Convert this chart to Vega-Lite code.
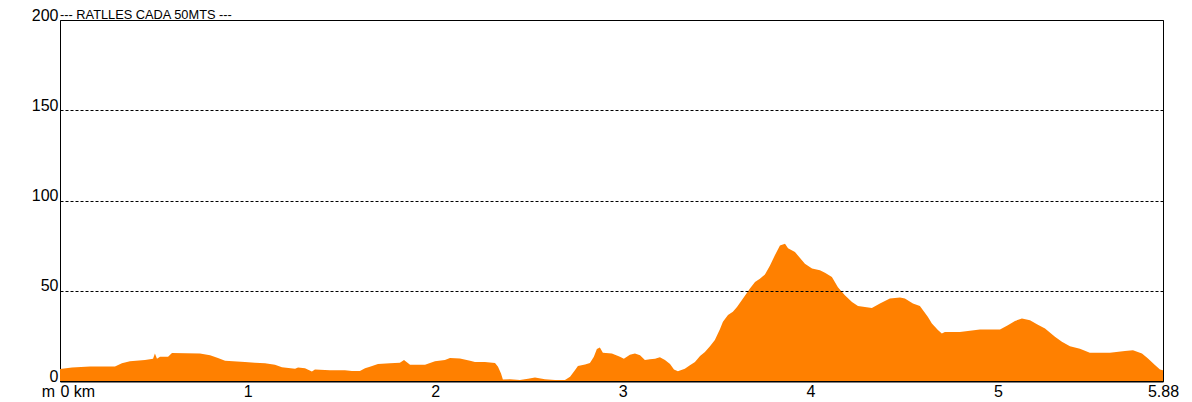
{
  "$schema": "https://vega.github.io/schema/vega-lite/v6.json",
  "width": 1103,
  "height": 361,
  "autosize": {"type": "none"},
  "padding": {"left": 60, "top": 20, "right": 29, "bottom": 21},
  "background": "white",
  "config": {
    "view": {"stroke": "black", "strokeWidth": 1},
    "font": "Liberation Sans"
  },
  "title": {
    "text": "--- RATLLES CADA 50MTS ---",
    "anchor": "start",
    "frame": "group",
    "font": "Liberation Sans",
    "fontSize": 12.8,
    "fontWeight": "normal",
    "color": "black",
    "baseline": "alphabetic",
    "offset": 0,
    "dy": 25
  },
  "data": {
    "values": [
      {"km": 0, "elev": 6.6}, {"km": 0.064, "elev": 7.5}, {"km": 0.16, "elev": 8}, {"km": 0.293, "elev": 8},
      {"km": 0.33, "elev": 9.8}, {"km": 0.373, "elev": 11}, {"km": 0.453, "elev": 11.6}, {"km": 0.496, "elev": 12.3},
      {"km": 0.506, "elev": 15.3}, {"km": 0.517, "elev": 12.3}, {"km": 0.533, "elev": 13.4}, {"km": 0.576, "elev": 13.4},
      {"km": 0.597, "elev": 15.5}, {"km": 0.746, "elev": 15.3}, {"km": 0.8, "elev": 14.2}, {"km": 0.842, "elev": 12.7},
      {"km": 0.88, "elev": 11.2}, {"km": 0.986, "elev": 10.5}, {"km": 1.039, "elev": 10.1}, {"km": 1.093, "elev": 9.8},
      {"km": 1.146, "elev": 9}, {"km": 1.183, "elev": 7.6}, {"km": 1.253, "elev": 6.8}, {"km": 1.269, "elev": 7.5},
      {"km": 1.306, "elev": 7}, {"km": 1.343, "elev": 5.2}, {"km": 1.359, "elev": 6.4}, {"km": 1.439, "elev": 6},
      {"km": 1.519, "elev": 6}, {"km": 1.556, "elev": 5.5}, {"km": 1.599, "elev": 5.5}, {"km": 1.626, "elev": 7},
      {"km": 1.652, "elev": 7.9}, {"km": 1.695, "elev": 9.4}, {"km": 1.759, "elev": 9.8}, {"km": 1.812, "elev": 10.1},
      {"km": 1.834, "elev": 11.6}, {"km": 1.866, "elev": 9}, {"km": 1.946, "elev": 9}, {"km": 1.999, "elev": 10.9},
      {"km": 2.052, "elev": 11.6}, {"km": 2.079, "elev": 12.7}, {"km": 2.132, "elev": 12.5}, {"km": 2.186, "elev": 11.2},
      {"km": 2.212, "elev": 10.5}, {"km": 2.265, "elev": 10.5}, {"km": 2.319, "elev": 10}, {"km": 2.335, "elev": 7.9},
      {"km": 2.351, "elev": 4.2}, {"km": 2.361, "elev": 0.9}, {"km": 2.399, "elev": 1}, {"km": 2.452, "elev": 0.5},
      {"km": 2.495, "elev": 1.3}, {"km": 2.532, "elev": 2}, {"km": 2.585, "elev": 1}, {"km": 2.639, "elev": 0.5},
      {"km": 2.692, "elev": 0.5}, {"km": 2.719, "elev": 2.4}, {"km": 2.745, "elev": 6}, {"km": 2.761, "elev": 8.3},
      {"km": 2.799, "elev": 9.2}, {"km": 2.825, "elev": 10}, {"km": 2.846, "elev": 13.4}, {"km": 2.862, "elev": 17.7},
      {"km": 2.878, "elev": 18.6}, {"km": 2.894, "elev": 15.7}, {"km": 2.942, "elev": 15.3}, {"km": 2.985, "elev": 13.4},
      {"km": 3.006, "elev": 12.3}, {"km": 3.038, "elev": 14.5}, {"km": 3.065, "elev": 15.3}, {"km": 3.092, "elev": 14.2},
      {"km": 3.118, "elev": 11.6}, {"km": 3.145, "elev": 12}, {"km": 3.172, "elev": 12.3}, {"km": 3.198, "elev": 13.1},
      {"km": 3.225, "elev": 11.6}, {"km": 3.252, "elev": 9.4}, {"km": 3.273, "elev": 6.4}, {"km": 3.294, "elev": 5.4},
      {"km": 3.331, "elev": 6.8}, {"km": 3.358, "elev": 8.7}, {"km": 3.385, "elev": 10.5}, {"km": 3.412, "elev": 13.8},
      {"km": 3.438, "elev": 16}, {"km": 3.465, "elev": 19.3}, {"km": 3.491, "elev": 22.7}, {"km": 3.518, "elev": 28.7},
      {"km": 3.534, "elev": 32.8}, {"km": 3.561, "elev": 36.5}, {"km": 3.587, "elev": 38.3}, {"km": 3.609, "elev": 41},
      {"km": 3.641, "elev": 45.7}, {"km": 3.678, "elev": 51.2}, {"km": 3.705, "elev": 54.9}, {"km": 3.731, "elev": 56.7},
      {"km": 3.758, "elev": 59}, {"km": 3.785, "elev": 64}, {"km": 3.811, "elev": 69.6}, {"km": 3.838, "elev": 75.1},
      {"km": 3.865, "elev": 76}, {"km": 3.881, "elev": 73.6}, {"km": 3.918, "elev": 71.5}, {"km": 3.945, "elev": 68.1},
      {"km": 3.971, "elev": 65}, {"km": 4.009, "elev": 62.3}, {"km": 4.051, "elev": 61.3}, {"km": 4.078, "elev": 60},
      {"km": 4.115, "elev": 57.6}, {"km": 4.147, "elev": 52}, {"km": 4.184, "elev": 47.5}, {"km": 4.222, "elev": 43.8},
      {"km": 4.254, "elev": 41.6}, {"km": 4.291, "elev": 41}, {"km": 4.328, "elev": 40.5}, {"km": 4.371, "elev": 42.9},
      {"km": 4.424, "elev": 45.7}, {"km": 4.478, "elev": 46.2}, {"km": 4.504, "elev": 45.7}, {"km": 4.547, "elev": 42.9},
      {"km": 4.584, "elev": 41.6}, {"km": 4.627, "elev": 35.5}, {"km": 4.648, "elev": 31.9}, {"km": 4.68, "elev": 28.2},
      {"km": 4.701, "elev": 26.3}, {"km": 4.717, "elev": 27.2}, {"km": 4.797, "elev": 27.2}, {"km": 4.904, "elev": 28.5},
      {"km": 5.011, "elev": 28.5}, {"km": 5.053, "elev": 30.9}, {"km": 5.091, "elev": 33.3}, {"km": 5.128, "elev": 34.6},
      {"km": 5.171, "elev": 33.7}, {"km": 5.208, "elev": 31.5}, {"km": 5.251, "elev": 29.1}, {"km": 5.304, "elev": 24.5},
      {"km": 5.341, "elev": 21.7}, {"km": 5.384, "elev": 19.3}, {"km": 5.437, "elev": 17.8}, {"km": 5.49, "elev": 15.6},
      {"km": 5.597, "elev": 15.6}, {"km": 5.677, "elev": 16.6}, {"km": 5.72, "elev": 17.1}, {"km": 5.768, "elev": 15.3},
      {"km": 5.8, "elev": 12.5}, {"km": 5.837, "elev": 8.8}, {"km": 5.864, "elev": 6.4}, {"km": 5.88, "elev": 6}
    ]
  },
  "mark": {"type": "area", "color": "#ff8000", "interpolate": "linear", "clip": true},
  "encoding": {
    "x": {
      "field": "km",
      "type": "quantitative",
      "scale": {"domain": [0, 5.88], "nice": false, "zero": false},
      "axis": {
        "values": [0, 1, 2, 3, 4, 5, 5.88],
        "labelExpr": "datum.value == 0 ? '0 km' : datum.value == 5.88 ? '5.88' : format(datum.value, 'd')",
        "labelAlign": {"condition": {"test": "datum.value == 0", "value": "left"}, "value": "center"},
        "labelFont": "Liberation Sans",
        "labelFontSize": 16,
        "labelColor": "black",
        "labelPadding": 6,
        "labelFlush": false,
        "labelOverlap": false,
        "grid": false,
        "domain": true,
        "domainColor": "black",
        "domainWidth": 2,
        "ticks": true,
        "tickColor": "black",
        "tickSize": -4,
        "tickWidth": 1,
        "title": null
      }
    },
    "y": {
      "field": "elev",
      "type": "quantitative",
      "scale": {"domain": [0, 200], "nice": false},
      "axis": {
        "values": [0, 50, 100, 150, 200],
        "labelFont": "Liberation Sans",
        "labelFontSize": 16,
        "labelColor": "black",
        "labelBaseline": "alphabetic",
        "labelAlign": "right",
        "labelPadding": 2,
        "labelFlush": false,
        "labelOverlap": false,
        "ticks": false,
        "tickSize": 0,
        "domain": false,
        "grid": true,
        "gridColor": "black",
        "gridOpacity": 1,
        "gridWidth": 1,
        "gridDash": [3, 2],
        "zindex": 1,
        "title": "m",
        "titleFont": "Liberation Sans",
        "titleFontSize": 16,
        "titleFontWeight": "normal",
        "titleColor": "black",
        "titleAngle": 0,
        "titleAlign": "center",
        "titleBaseline": "alphabetic",
        "titleX": -12,
        "titleY": 376
      }
    }
  }
}
